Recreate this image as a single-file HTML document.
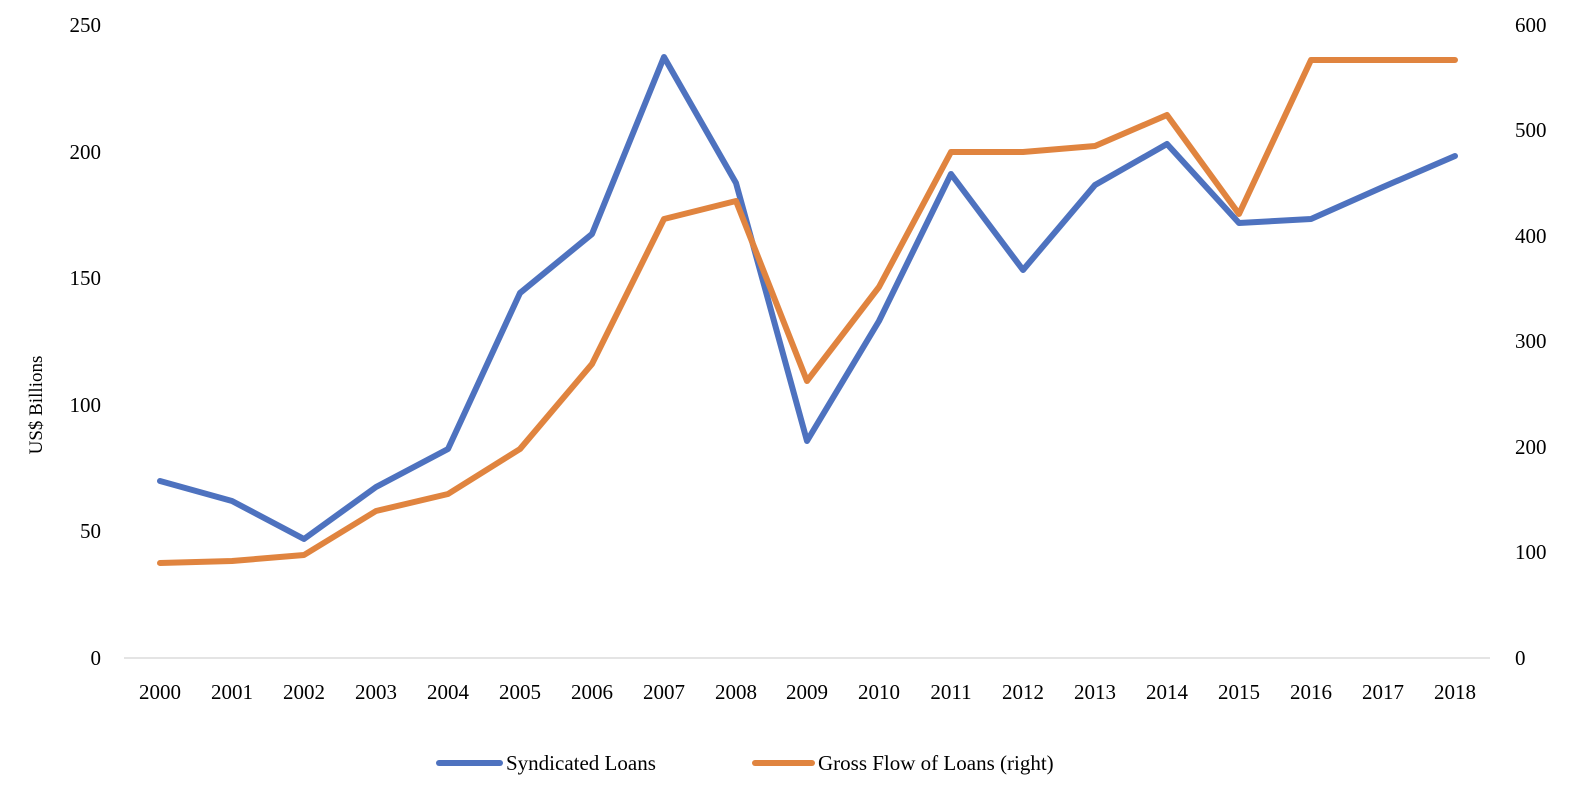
<!DOCTYPE html>
<html><head><style>body{margin:0;background:#fff}</style></head><body>
<svg width="1582" height="790" xmlns="http://www.w3.org/2000/svg" font-family="Liberation Serif, serif" font-size="21" fill="#000">
<line x1="124" y1="658" x2="1490" y2="658" stroke="#dcdcdc" stroke-width="1.5"/>
<g text-anchor="end">
<text x="101" y="32">250</text><text x="101" y="159">200</text><text x="101" y="285">150</text><text x="101" y="412">100</text><text x="101" y="538">50</text><text x="101" y="665">0</text>
</g>
<g text-anchor="start">
<text x="1515" y="32">600</text><text x="1515" y="137">500</text><text x="1515" y="243">400</text><text x="1515" y="348">300</text><text x="1515" y="454">200</text><text x="1515" y="559">100</text><text x="1515" y="665">0</text>
</g>
<text transform="translate(42,405) rotate(-90)" text-anchor="middle" font-size="19">US$ Billions</text>
<g text-anchor="middle">
<text x="160" y="699">2000</text><text x="232" y="699">2001</text><text x="304" y="699">2002</text><text x="376" y="699">2003</text><text x="448" y="699">2004</text><text x="520" y="699">2005</text><text x="592" y="699">2006</text><text x="664" y="699">2007</text><text x="736" y="699">2008</text><text x="807" y="699">2009</text><text x="879" y="699">2010</text><text x="951" y="699">2011</text><text x="1023" y="699">2012</text><text x="1095" y="699">2013</text><text x="1167" y="699">2014</text><text x="1239" y="699">2015</text><text x="1311" y="699">2016</text><text x="1383" y="699">2017</text><text x="1455" y="699">2018</text>
</g>
<polyline fill="none" stroke="#4e72bf" stroke-width="6" stroke-linejoin="round" stroke-linecap="round" points="160,481 232,501 304,539 376,487 448,449 520,293 592,234 664,57 736,183 807,441 879,321 951,174 1023,270 1095,185 1167,144 1239,223 1311,219 1383,187 1455,156"/>
<polyline fill="none" stroke="#e0843f" stroke-width="6" stroke-linejoin="round" stroke-linecap="round" points="160,563 232,561 304,555 376,511 448,494 520,449 592,364 664,219 736,201 807,381 879,287 951,152 1023,152 1095,146 1167,115 1239,214 1311,60 1383,60 1455,60"/>
<line x1="439" y1="763" x2="500" y2="763" stroke="#4e72bf" stroke-width="6" stroke-linecap="round"/>
<text x="506" y="770">Syndicated Loans</text>
<line x1="755" y1="763" x2="812" y2="763" stroke="#e0843f" stroke-width="6" stroke-linecap="round"/>
<text x="818" y="770">Gross Flow of Loans (right)</text>
</svg>
</body></html>
